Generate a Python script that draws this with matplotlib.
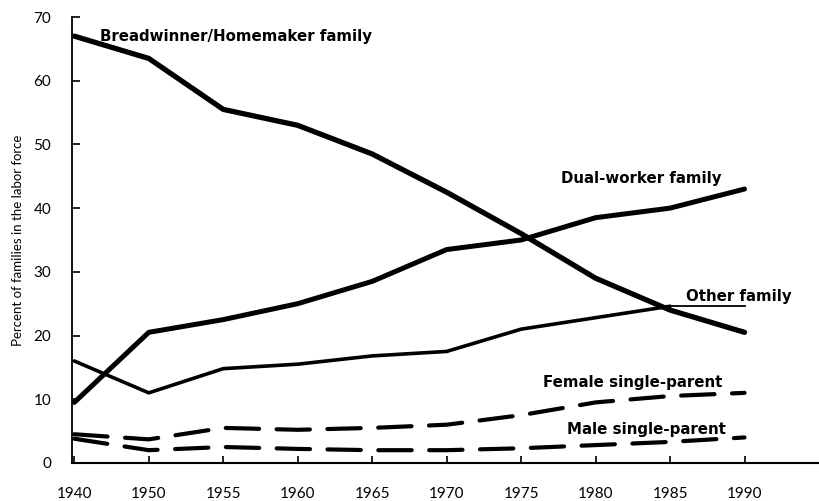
import matplotlib
matplotlib.use("Agg")
import matplotlib.pyplot as plt

plt.rcParams['font.family'] = ['Lato', 'DejaVu Sans']

years = ["1940", "1950", "1955", "1960", "1965", "1970", "1975", "1980", "1985", "1990"]
breadwinner = [67, 63.5, 55.5, 53, 48.5, 42.5, 36, 29, 24, 20.5]
dual_worker = [9.5, 20.5, 22.5, 25, 28.5, 33.5, 35, 38.5, 40, 43]
other_family = [16, 11, 14.8, 15.5, 16.8, 17.5, 21, 22.8, 24.6, 24.6]
female_single = [4.5, 3.7, 5.5, 5.2, 5.5, 6, 7.5, 9.5, 10.5, 11]
male_single = [3.8, 2, 2.5, 2.2, 2, 2, 2.3, 2.8, 3.3, 4]
yticks = [0, 10, 20, 30, 40, 50, 60, 70]

fig = plt.figure(figsize=(8.19, 5.01), dpi=100)
ax = fig.add_axes([0.088, 0.076, 0.912, 0.890])

x = list(range(len(years)))
ax.plot(x, breadwinner, color='black', lw=3.8, solid_capstyle='round', solid_joinstyle='round')
ax.plot(x, dual_worker, color='black', lw=3.6, solid_capstyle='round', solid_joinstyle='round')
ax.plot(x[:-1], other_family[:-1], color='black', lw=2.6, solid_capstyle='round', solid_joinstyle='round')
ax.plot(x[-2:], other_family[-2:], color='black', lw=1.3)
ax.plot(x, female_single, color='black', lw=3.0, dashes=(8, 4.2), dash_capstyle='round')
ax.plot(x, male_single, color='black', lw=3.0, dashes=(8, 4.2), dash_capstyle='round')

lab = dict(fontsize=10.8, fontweight='bold', va='center', ha='left', family=['DejaVu Sans'])
ax.text(0.35, 66.9, "Breadwinner/Homemaker family", **lab)
ax.text(6.53, 44.7, "Dual-worker family", **lab)
ax.text(8.21, 26.1, "Other family", **lab)
ax.text(6.30, 12.7, "Female single-parent", **lab)
ax.text(6.61, 5.2, "Male single-parent", **lab)

ax.set_xlim(-0.03, 10.0)
ax.set_ylim(0, 70)
ax.set_xticks(x)
ax.set_xticklabels(years)
ax.set_yticks(yticks)
ax.tick_params(axis='x', direction='in', length=5, width=1.2, labelsize=11)
ax.tick_params(axis='y', direction='in', length=6, width=1.2, pad=15, labelsize=11)
ax.xaxis.set_tick_params(pad=17)
for s in ['top', 'right']:
    ax.spines[s].set_visible(False)
ax.spines['left'].set_linewidth(1.3)
ax.spines['bottom'].set_linewidth(1.5)
ax.set_ylabel("Percent of families in the labor force", fontsize=9.5)
ax.yaxis.set_label_coords(-0.064, 0.5)

fig.savefig("out.png", dpi=100)
